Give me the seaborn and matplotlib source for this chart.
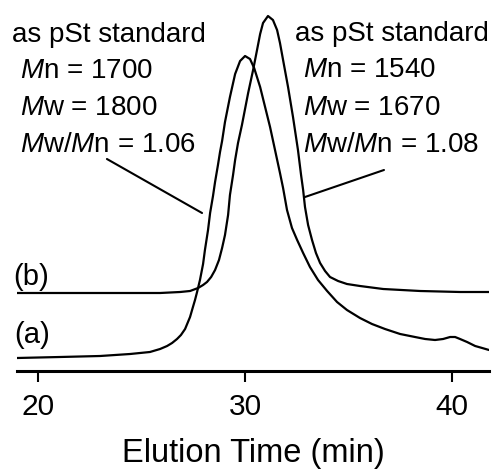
import numpy as np
import pandas as pd
import matplotlib
matplotlib.use("Agg")
import matplotlib.pyplot as plt
import seaborn as sns

# GPC traces (time in min, detector response in a.u.)
time_a = [18.97, 21.05, 22.99, 24.44, 25.40, 25.89, 26.23, 26.47, 26.71, 26.90,
          27.10, 27.24, 27.34, 27.48, 27.58, 27.68, 27.82, 27.97, 28.06, 28.21,
          28.31, 28.45, 28.55, 28.69, 28.79, 28.89, 29.03, 29.27, 29.52, 29.76,
          30.00, 30.24, 30.44, 30.73, 30.97, 31.21, 31.45, 31.69, 31.84, 32.03,
          32.27, 32.52, 32.81, 33.14, 33.53, 33.97, 34.45, 34.93, 35.56, 36.14,
          36.77, 37.50, 38.22, 38.71, 39.19, 39.58, 39.92, 40.16, 40.40, 40.74,
          41.13, 41.47, 41.80]
signal_a = [13, 14, 15, 17, 19, 22, 25, 28, 32, 36,
            42, 49, 54, 64, 71, 79, 91, 107, 121, 141,
            158, 175, 189, 206, 219, 230, 249, 274, 297, 310,
            315, 312, 303, 284, 264, 244, 221, 198, 183, 161,
            143, 131, 118, 104, 91, 80, 69, 61, 53, 47,
            42, 37, 34, 32, 31, 32, 34, 34, 32, 29,
            25, 23, 21]

time_b = [18.97, 21.05, 22.99, 24.92, 25.89, 26.86, 27.34, 27.73, 27.97, 28.16,
          28.36, 28.55, 28.74, 28.89, 29.03, 29.18, 29.27, 29.42, 29.52, 29.66,
          29.85, 30.15, 30.39, 30.58, 30.73, 30.87, 31.11, 31.35, 31.55, 31.69,
          31.84, 32.08, 32.32, 32.56, 32.71, 32.81, 32.90, 33.05, 33.24, 33.43,
          33.63, 33.87, 34.11, 34.50, 34.93, 35.56, 36.68, 38.47, 40.40, 41.80]
signal_b = [78, 78, 78, 78, 78, 79, 80, 83, 86, 89,
            94, 101, 111, 123, 136, 156, 176, 196, 211, 228,
            246, 278, 301, 321, 337, 348, 355, 351, 341, 328,
            311, 284, 254, 221, 196, 181, 164, 146, 131, 118,
            108, 100, 94, 90, 87, 85, 82, 80, 79, 79]

xticks = [20, 30, 40]
left_block = ["as pSt standard", "$M$n = 1700", "$M$w = 1800", "$M$w/$M$n = 1.06"]
right_block = ["as pSt standard", "$M$n = 1540", "$M$w = 1670", "$M$w/$M$n = 1.08"]

df = pd.concat([
    pd.DataFrame({"time": time_a, "signal": signal_a, "trace": "(a)"}),
    pd.DataFrame({"time": time_b, "signal": signal_b, "trace": "(b)"}),
])

sns.set_theme(style="white")
plt.rcParams["font.family"] = ["Liberation Sans", "DejaVu Sans"]
plt.rcParams["text.color"] = "black"
plt.rcParams["mathtext.fontset"] = "custom"
plt.rcParams["mathtext.rm"] = "Liberation Sans"
plt.rcParams["mathtext.it"] = "Liberation Sans:italic"

fig = plt.figure(figsize=(4.97, 4.74), dpi=100)
ax = fig.add_axes([17 / 497, 103 / 474, 472 / 497, 371 / 474])

sns.lineplot(data=df, x="time", y="signal", units="trace", estimator=None,
             color="black", linewidth=1.6, sort=False, ax=ax)

ax.set_xlim(18.97, 41.8)
ax.set_ylim(0, 371)
ax.set_yticks([])
ax.set_xticks(xticks)
ax.set_xticklabels([str(t) for t in xticks])
ax.tick_params(axis="x", direction="out", length=8, width=1.5, pad=8,
               labelsize=21.5, colors="black", bottom=True)
ax.set_xlabel("Elution Time (min)", fontsize=23.5, labelpad=12, color="black")
ax.set_ylabel("")
sns.despine(ax=ax, left=True, top=True, right=True)
ax.spines["bottom"].set_linewidth(2.2)
ax.spines["bottom"].set_color("black")

# annotation blocks
fs = 20
for i, s in enumerate(left_block):
    x0 = 18.73 if i == 0 else 19.11
    ax.text(x0, [329, 293, 256, 219][i], s, fontsize=fs, va="baseline",
            ha="left", clip_on=False)
for i, s in enumerate(right_block):
    x0 = 32.42 if i == 0 else 32.81
    ax.text(x0, [330, 294, 256, 219][i], s, fontsize=fs, va="baseline",
            ha="left", clip_on=False)

ax.plot([23.32, 27.92], [212, 158], color="black", linewidth=1.5)
ax.plot([36.72, 32.90], [201, 174], color="black", linewidth=1.5)

ax.text(18.78, 86, "(b)", fontsize=21, va="baseline", ha="left", clip_on=False)
ax.text(18.82, 28, "(a)", fontsize=21, va="baseline", ha="left", clip_on=False)

fig.savefig("out.png", dpi=100)
